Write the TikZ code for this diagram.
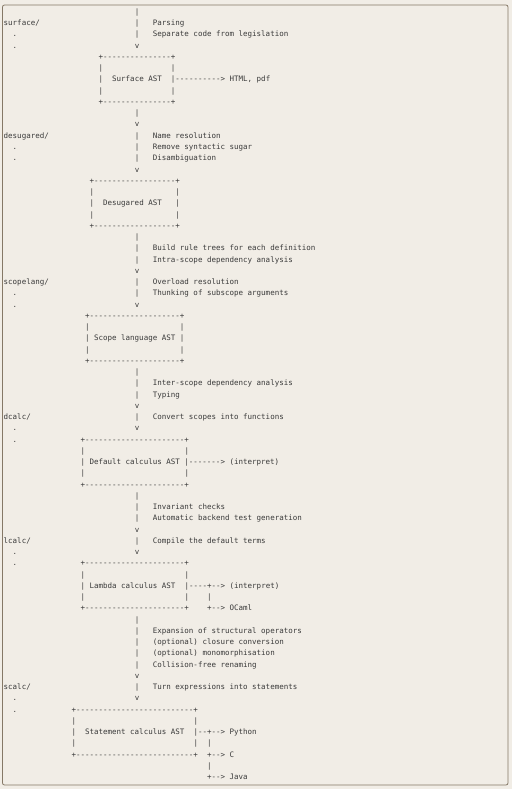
\documentclass[tikz,border=0pt]{standalone}
\usepackage{fontspec}
\setmonofont{DejaVu Sans Mono}
\definecolor{paper}{HTML}{F1EDE6}
\definecolor{ink}{HTML}{3A3A3A}
\definecolor{rim}{HTML}{857866}
\tikzset{ln/.style={anchor=base west,inner sep=0pt,outer sep=0pt,text=ink,font=\ttfamily\fontsize{7.5pt}{9pt}\selectfont}}
\begin{document}
\begin{tikzpicture}[x=1pt,y=1pt]
\useasboundingbox (0,0) rectangle (512,-789);
\fill[paper] (0,0) rectangle (512,-789);
\draw[rim,line width=.8pt,rounded corners=2pt] (2.5,-5) rectangle (508,-785);
\begin{scope}[shift={(3.7pt,-3.25pt)},x=4.52pt,y=-11.25pt]
% main flow column
\foreach \l/\s in {1/|,2/|,3/|,4/v,10/|,11/v,12/|,13/|,14/|,15/v,21/|,22/|,23/|,24/v,25/|,26/|,27/v,
  33/|,34/|,35/|,36/v,37/|,38/v,44/|,45/|,46/|,47/v,48/|,49/v,55/|,56/|,57/|,58/|,59/|,60/v,61/|,62/v}
  {\node[ln] (bar\l) at (29,\l) {\s};}
% passes
\foreach \l/\s in {2/Parsing,3/Separate code from legislation,12/Name resolution,13/Remove syntactic sugar,
  14/Disambiguation,22/Build rule trees for each definition,23/Intra-scope dependency analysis,
  25/Overload resolution,26/Thunking of subscope arguments,34/Inter-scope dependency analysis,35/Typing,
  37/Convert scopes into functions,45/Invariant checks,46/Automatic backend test generation,
  48/Compile the default terms,56/Expansion of structural operators,57/(optional) closure conversion,
  58/(optional) monomorphisation,59/Collision-free renaming,61/Turn expressions into statements}
  {\node[ln] (pass\l) at (33,\l) {\s};}
% directories
\node[ln] (surface) at (0,2) {surface/};
\node[ln] (desugared) at (0,12) {desugared/};
\node[ln] (scopelang) at (0,25) {scopelang/};
\node[ln] (dcalc) at (0,37) {dcalc/};
\node[ln] (lcalc) at (0,48) {lcalc/};
\node[ln] (scalc) at (0,61) {scalc/};
\foreach \l in {3,4,13,14,26,27,38,39,49,50,62,63}{\node[ln] (dot\l) at (2,\l) {.};}
% boxes and outputs
\foreach \l/\c/\s in {5/21/+---------------+,6/21/|,6/37/|,7/21/|,7/24/Surface AST,7/37/{|----------> HTML, pdf},
  8/21/|,8/37/|,9/21/+---------------+,
  16/19/+------------------+,17/19/|,17/38/|,18/19/|,18/22/Desugared AST,18/38/|,19/19/|,19/38/|,
  20/19/+------------------+,
  28/18/+--------------------+,29/18/|,29/39/|,30/18/| Scope language AST |,31/18/|,31/39/|,
  32/18/+--------------------+,
  39/17/+----------------------+,40/17/|,40/40/|,41/17/| Default calculus AST |-------> (interpret),
  42/17/|,42/40/|,43/17/+----------------------+,
  50/17/+----------------------+,51/17/|,51/40/|,52/17/| Lambda calculus AST,52/40/|----+--> (interpret),
  53/17/|,53/40/|,53/45/|,54/17/+----------------------+,54/45/+--> OCaml,
  63/15/+--------------------------+,64/15/|,64/42/|,65/15/|,65/18/Statement calculus AST,
  65/42/|--+--> Python,66/15/|,66/42/|,66/45/|,67/15/+--------------------------+,67/45/+--> C,
  68/45/|,69/45/+--> Java}
  {\node[ln] (p\l-\c) at (\c,\l) {\s};}
\end{scope}
\end{tikzpicture}
\end{document}
